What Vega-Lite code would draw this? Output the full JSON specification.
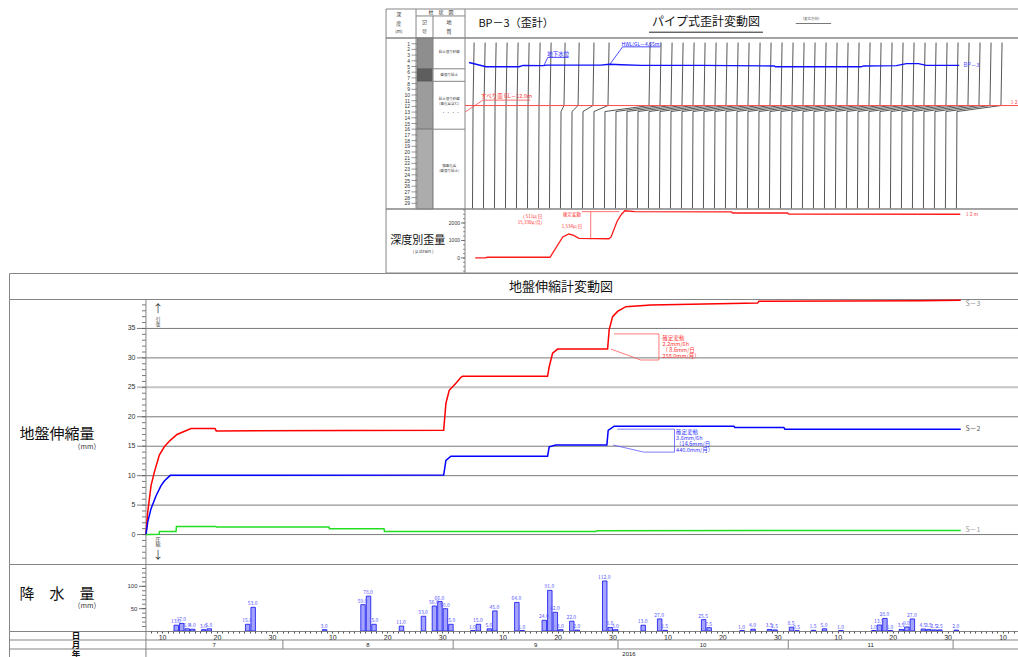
{
"$schema": "https://vega.github.io/schema/vega-lite/v6.json",
"background": "white",
"padding": {"left": 8, "top": 8, "right": 0, "bottom": 0},
"spacing": 0,
"bounds": "flush",
"config": {
  "font": "Noto Sans CJK JP",
  "view": {"stroke": "#858585", "strokeWidth": 1},
  "axis": {"labelFont": "Liberation Sans", "labelColor": "#333333", "tickColor": "#555555", "domainColor": "#555555"}
},
"datasets": {
  "pipe": [
    {"gauge":1,"depth":0.8,"trace":1.1},{"gauge":1,"depth":11.85,"trace":1},{"gauge":1,"depth":12.9,"trace":1},{"gauge":1,"depth":29.9,"trace":0.95},
    {"gauge":2,"depth":0.8,"trace":2.1},{"gauge":2,"depth":11.85,"trace":2},{"gauge":2,"depth":12.9,"trace":2},{"gauge":2,"depth":29.9,"trace":1.95},
    {"gauge":3,"depth":0.8,"trace":3.1},{"gauge":3,"depth":11.85,"trace":3},{"gauge":3,"depth":12.9,"trace":3},{"gauge":3,"depth":29.9,"trace":2.95},
    {"gauge":4,"depth":0.8,"trace":4.1},{"gauge":4,"depth":11.85,"trace":4},{"gauge":4,"depth":12.9,"trace":4},{"gauge":4,"depth":29.9,"trace":3.95},
    {"gauge":5,"depth":0.8,"trace":5.1},{"gauge":5,"depth":11.85,"trace":5},{"gauge":5,"depth":12.9,"trace":5},{"gauge":5,"depth":29.9,"trace":4.95},
    {"gauge":6,"depth":0.8,"trace":6.1},{"gauge":6,"depth":11.85,"trace":6},{"gauge":6,"depth":12.9,"trace":6},{"gauge":6,"depth":29.9,"trace":5.95},
    {"gauge":7,"depth":0.8,"trace":7.1},{"gauge":7,"depth":11.85,"trace":7},{"gauge":7,"depth":12.9,"trace":7},{"gauge":7,"depth":29.9,"trace":6.95},
    {"gauge":8,"depth":0.8,"trace":8.1},{"gauge":8,"depth":11.85,"trace":8},{"gauge":8,"depth":12.9,"trace":8},{"gauge":8,"depth":29.9,"trace":7.95},
    {"gauge":9,"depth":0.8,"trace":9.37},{"gauge":9,"depth":11.85,"trace":9.27},{"gauge":9,"depth":12.9,"trace":9},{"gauge":9,"depth":29.9,"trace":8.95},
    {"gauge":10,"depth":0.8,"trace":10.65},{"gauge":10,"depth":11.85,"trace":10.55},{"gauge":10,"depth":12.9,"trace":10},{"gauge":10,"depth":29.9,"trace":9.95},
    {"gauge":11,"depth":0.8,"trace":12.0},{"gauge":11,"depth":11.85,"trace":11.9},{"gauge":11,"depth":12.9,"trace":11},{"gauge":11,"depth":29.9,"trace":10.95},
    {"gauge":12,"depth":0.8,"trace":13.37},{"gauge":12,"depth":11.85,"trace":13.27},{"gauge":12,"depth":12.9,"trace":12},{"gauge":12,"depth":29.9,"trace":11.95},
    {"gauge":13,"depth":0.8,"trace":17.1},{"gauge":13,"depth":11.85,"trace":17},{"gauge":13,"depth":12.9,"trace":13},{"gauge":13,"depth":29.9,"trace":12.95},
    {"gauge":14,"depth":0.8,"trace":18.1},{"gauge":14,"depth":11.85,"trace":18},{"gauge":14,"depth":12.9,"trace":14},{"gauge":14,"depth":29.9,"trace":13.95},
    {"gauge":15,"depth":0.8,"trace":19.1},{"gauge":15,"depth":11.85,"trace":19},{"gauge":15,"depth":12.9,"trace":15},{"gauge":15,"depth":29.9,"trace":14.95},
    {"gauge":16,"depth":0.8,"trace":20.1},{"gauge":16,"depth":11.85,"trace":20},{"gauge":16,"depth":12.9,"trace":16},{"gauge":16,"depth":29.9,"trace":15.95},
    {"gauge":17,"depth":0.8,"trace":21.1},{"gauge":17,"depth":11.85,"trace":21},{"gauge":17,"depth":12.9,"trace":17},{"gauge":17,"depth":29.9,"trace":16.95},
    {"gauge":18,"depth":0.8,"trace":22.1},{"gauge":18,"depth":11.85,"trace":22},{"gauge":18,"depth":12.9,"trace":18},{"gauge":18,"depth":29.9,"trace":17.95},
    {"gauge":19,"depth":0.8,"trace":23.1},{"gauge":19,"depth":11.85,"trace":23},{"gauge":19,"depth":12.9,"trace":19},{"gauge":19,"depth":29.9,"trace":18.95},
    {"gauge":20,"depth":0.8,"trace":24.1},{"gauge":20,"depth":11.85,"trace":24},{"gauge":20,"depth":12.9,"trace":20},{"gauge":20,"depth":29.9,"trace":19.95},
    {"gauge":21,"depth":0.8,"trace":25.1},{"gauge":21,"depth":11.85,"trace":25},{"gauge":21,"depth":12.9,"trace":21},{"gauge":21,"depth":29.9,"trace":20.95},
    {"gauge":22,"depth":0.8,"trace":26.1},{"gauge":22,"depth":11.85,"trace":26},{"gauge":22,"depth":12.9,"trace":22},{"gauge":22,"depth":29.9,"trace":21.95},
    {"gauge":23,"depth":0.8,"trace":27.1},{"gauge":23,"depth":11.85,"trace":27},{"gauge":23,"depth":12.9,"trace":23},{"gauge":23,"depth":29.9,"trace":22.95},
    {"gauge":24,"depth":0.8,"trace":28.1},{"gauge":24,"depth":11.85,"trace":28},{"gauge":24,"depth":12.9,"trace":24},{"gauge":24,"depth":29.9,"trace":23.95},
    {"gauge":25,"depth":0.8,"trace":29.1},{"gauge":25,"depth":11.85,"trace":29},{"gauge":25,"depth":12.9,"trace":25},{"gauge":25,"depth":29.9,"trace":24.95},
    {"gauge":26,"depth":0.8,"trace":30.1},{"gauge":26,"depth":11.85,"trace":30},{"gauge":26,"depth":12.9,"trace":26},{"gauge":26,"depth":29.9,"trace":25.95},
    {"gauge":27,"depth":0.8,"trace":31.1},{"gauge":27,"depth":11.85,"trace":31},{"gauge":27,"depth":12.9,"trace":27},{"gauge":27,"depth":29.9,"trace":26.95},
    {"gauge":28,"depth":0.8,"trace":32.1},{"gauge":28,"depth":11.85,"trace":32},{"gauge":28,"depth":12.9,"trace":28},{"gauge":28,"depth":29.9,"trace":27.95},
    {"gauge":29,"depth":0.8,"trace":33.1},{"gauge":29,"depth":11.85,"trace":33},{"gauge":29,"depth":12.9,"trace":29},{"gauge":29,"depth":29.9,"trace":28.95},
    {"gauge":30,"depth":0.8,"trace":34.1},{"gauge":30,"depth":11.85,"trace":34},{"gauge":30,"depth":12.9,"trace":30},{"gauge":30,"depth":29.9,"trace":29.95},
    {"gauge":31,"depth":0.8,"trace":35.1},{"gauge":31,"depth":11.85,"trace":35},{"gauge":31,"depth":12.9,"trace":31},{"gauge":31,"depth":29.9,"trace":30.95},
    {"gauge":32,"depth":0.8,"trace":36.1},{"gauge":32,"depth":11.85,"trace":36},{"gauge":32,"depth":12.9,"trace":32},{"gauge":32,"depth":29.9,"trace":31.95},
    {"gauge":33,"depth":0.8,"trace":37.1},{"gauge":33,"depth":11.85,"trace":37},{"gauge":33,"depth":12.9,"trace":33},{"gauge":33,"depth":29.9,"trace":32.95},
    {"gauge":34,"depth":0.8,"trace":38.1},{"gauge":34,"depth":11.85,"trace":38},{"gauge":34,"depth":12.9,"trace":34},{"gauge":34,"depth":29.9,"trace":33.95},
    {"gauge":35,"depth":0.8,"trace":39.1},{"gauge":35,"depth":11.85,"trace":39},{"gauge":35,"depth":12.9,"trace":35},{"gauge":35,"depth":29.9,"trace":34.95},
    {"gauge":36,"depth":0.8,"trace":40.1},{"gauge":36,"depth":11.85,"trace":40},{"gauge":36,"depth":12.9,"trace":36},{"gauge":36,"depth":29.9,"trace":35.95},
    {"gauge":37,"depth":0.8,"trace":41.1},{"gauge":37,"depth":11.85,"trace":41},{"gauge":37,"depth":12.9,"trace":37},{"gauge":37,"depth":29.9,"trace":36.95},
    {"gauge":38,"depth":0.8,"trace":42.1},{"gauge":38,"depth":11.85,"trace":42},{"gauge":38,"depth":12.9,"trace":38},{"gauge":38,"depth":29.9,"trace":37.95},
    {"gauge":39,"depth":0.8,"trace":43.1},{"gauge":39,"depth":11.85,"trace":43},{"gauge":39,"depth":12.9,"trace":39},{"gauge":39,"depth":29.9,"trace":38.95},
    {"gauge":40,"depth":0.8,"trace":44.1},{"gauge":40,"depth":11.85,"trace":44},{"gauge":40,"depth":12.9,"trace":40},{"gauge":40,"depth":29.9,"trace":39.95},
    {"gauge":41,"depth":0.8,"trace":45.1},{"gauge":41,"depth":11.85,"trace":45},{"gauge":41,"depth":12.9,"trace":41},{"gauge":41,"depth":29.9,"trace":40.95},
    {"gauge":42,"depth":0.8,"trace":46.1},{"gauge":42,"depth":11.85,"trace":46},{"gauge":42,"depth":12.9,"trace":42},{"gauge":42,"depth":29.9,"trace":41.95},
    {"gauge":43,"depth":0.8,"trace":47.1},{"gauge":43,"depth":11.85,"trace":47},{"gauge":43,"depth":12.9,"trace":43},{"gauge":43,"depth":29.9,"trace":42.95},
    {"gauge":44,"depth":0.8,"trace":48.1},{"gauge":44,"depth":11.85,"trace":48},{"gauge":44,"depth":12.9,"trace":44},{"gauge":44,"depth":29.9,"trace":43.95},
    {"gauge":45,"depth":0.8,"trace":49.1},{"gauge":45,"depth":11.85,"trace":49},{"gauge":45,"depth":12.9,"trace":45},{"gauge":45,"depth":29.9,"trace":44.95}
  ],
  "groundwater": [
    {"trace":0.64,"depth":4.3},{"trace":2.18,"depth":5.05},{"trace":5.18,"depth":5.05},{"trace":5.55,"depth":4.8},{"trace":7.36,"depth":4.85},{"trace":7.7,"depth":4.75},{"trace":12.6,"depth":4.75},{"trace":13.4,"depth":4.6},{"trace":14.5,"depth":4.7},{"trace":16.3,"depth":4.8},{"trace":21.7,"depth":4.8},{"trace":28.4,"depth":4.9},{"trace":28.5,"depth":5.05},{"trace":36.3,"depth":5.05},{"trace":36.5,"depth":4.9},{"trace":39.5,"depth":4.85},{"trace":40.4,"depth":4.5},{"trace":41.5,"depth":4.5},{"trace":42.2,"depth":4.8},{"trace":45.2,"depth":4.8}
  ],
  "strain": [
    {"trace":1.2,"ustrain":0},{"trace":2.1,"ustrain":0},{"trace":2.3,"ustrain":40},{"trace":8.0,"ustrain":40},{"trace":9.16,"ustrain":1200},{"trace":9.71,"ustrain":1370},{"trace":10.1,"ustrain":1300},{"trace":10.63,"ustrain":1120},{"trace":13.36,"ustrain":1100},{"trace":13.55,"ustrain":1200},{"trace":14.1,"ustrain":2100},{"trace":14.5,"ustrain":2500},{"trace":14.8,"ustrain":2700},{"trace":15.7,"ustrain":2650},{"trace":24.5,"ustrain":2630},{"trace":24.6,"ustrain":2570},{"trace":29.6,"ustrain":2570},{"trace":29.7,"ustrain":2510},{"trace":45.3,"ustrain":2500}
  ],
  "strainTicks": [
    {"tick":-750},{"tick":-500},{"tick":-250},{"tick":0},{"tick":250},{"tick":500},{"tick":750},{"tick":1000},{"tick":1250},{"tick":1500},{"tick":1750},{"tick":2000},{"tick":2250},{"tick":2500},{"tick":2750}
  ],
  "soil": [
    {"top":0,"bottom":5.4,"soil":"砂礫"},{"top":5.4,"bottom":7.6,"soil":"粘土"},{"top":7.6,"bottom":16,"soil":"砂礫2"},{"top":16,"bottom":30,"soil":"風化岩"}
  ],
  "meters": [
    {"m":1},{"m":2},{"m":3},{"m":4},{"m":5},{"m":6},{"m":7},{"m":8},{"m":9},{"m":10},{"m":11},{"m":12},{"m":13},{"m":14},{"m":15},{"m":16},{"m":17},{"m":18},{"m":19},{"m":20},{"m":21},{"m":22},{"m":23},{"m":24},{"m":25},{"m":26},{"m":27},{"m":28},{"m":29}
  ],
  "mainTicks": [
    {"tick":-4},{"tick":-3},{"tick":-2},{"tick":-1},{"tick":0},{"tick":1},{"tick":2},{"tick":3},{"tick":4},{"tick":5},{"tick":6},{"tick":7},{"tick":8},{"tick":9},{"tick":10},{"tick":11},{"tick":12},{"tick":13},{"tick":14},{"tick":15},{"tick":16},{"tick":17},{"tick":18},{"tick":19},{"tick":20},{"tick":21},{"tick":22},{"tick":23},{"tick":24},{"tick":25},{"tick":26},{"tick":27},{"tick":28},{"tick":29},{"tick":30},{"tick":31},{"tick":32},{"tick":33},{"tick":34},{"tick":35},{"tick":36},{"tick":37},{"tick":38},{"tick":39}
  ],
  "rainTicks": [
    {"tick":10},{"tick":20},{"tick":30},{"tick":40},{"tick":50},{"tick":60},{"tick":70},{"tick":80},{"tick":90},{"tick":100},{"tick":110},{"tick":120},{"tick":130},{"tick":140}
  ],
  "ext": [
    {"s":"S－3","t":"2016-07-07T02:00","v":0},{"s":"S－3","t":"2016-07-07T09:30","v":3.8},{"s":"S－3","t":"2016-07-08T00:00","v":8.3},{"s":"S－3","t":"2016-07-08T14:25","v":10.6},{"s":"S－3","t":"2016-07-09T12:15","v":13.5},{"s":"S－3","t":"2016-07-10T10:00","v":14.9},{"s":"S－3","t":"2016-07-11T12:00","v":16.0},{"s":"S－3","t":"2016-07-12T17:30","v":17.0},{"s":"S－3","t":"2016-07-15T06:45","v":18.0},{"s":"S－3","t":"2016-07-19T15:30","v":18.0},{"s":"S－3","t":"2016-07-19T21:00","v":17.6},{"s":"S－3","t":"2016-08-30T06:30","v":17.7},{"s":"S－3","t":"2016-08-30T16:20","v":22.3},{"s":"S－3","t":"2016-08-31T06:45","v":24.5},{"s":"S－3","t":"2016-08-31T14:10","v":24.8},{"s":"S－3","t":"2016-09-01T12:00","v":25.7},{"s":"S－3","t":"2016-09-02T10:00","v":26.7},{"s":"S－3","t":"2016-09-02T17:15","v":26.9},{"s":"S－3","t":"2016-09-18T04:30","v":26.9},{"s":"S－3","t":"2016-09-18T11:30","v":28.5},{"s":"S－3","t":"2016-09-19T02:25","v":30.8},{"s":"S－3","t":"2016-09-20T00:15","v":31.5},{"s":"S－3","t":"2016-09-29T02:40","v":31.5},{"s":"S－3","t":"2016-09-29T09:35","v":34.8},{"s":"S－3","t":"2016-09-30T00:30","v":37.0},{"s":"S－3","t":"2016-09-30T22:20","v":37.9},{"s":"S－3","t":"2016-10-02T10:30","v":38.7},{"s":"S－3","t":"2016-10-06T23:45","v":39.0},{"s":"S－3","t":"2016-10-26T09:50","v":39.3},{"s":"S－3","t":"2016-10-26T15:35","v":39.6},{"s":"S－3","t":"2016-11-25T03:00","v":39.7},{"s":"S－3","t":"2016-12-02T09:30","v":39.8},
    {"s":"S－2","t":"2016-07-07T02:00","v":0},{"s":"S－2","t":"2016-07-07T09:30","v":2.1},{"s":"S－2","t":"2016-07-08T00:00","v":4.4},{"s":"S－2","t":"2016-07-08T22:00","v":6.6},{"s":"S－2","t":"2016-07-09T19:40","v":8.3},{"s":"S－2","t":"2016-07-10T10:00","v":9.1},{"s":"S－2","t":"2016-07-11T12:00","v":10.05},{"s":"S－2","t":"2016-08-30T06:30","v":10.1},{"s":"S－2","t":"2016-08-30T16:20","v":12.6},{"s":"S－2","t":"2016-08-31T14:10","v":13.3},{"s":"S－2","t":"2016-09-18T04:30","v":13.3},{"s":"S－2","t":"2016-09-18T11:30","v":14.9},{"s":"S－2","t":"2016-09-19T16:50","v":15.2},{"s":"S－2","t":"2016-09-28T23:30","v":15.2},{"s":"S－2","t":"2016-09-29T05:15","v":17.7},{"s":"S－2","t":"2016-09-30T07:25","v":18.4},{"s":"S－2","t":"2016-10-22T02:10","v":18.4},{"s":"S－2","t":"2016-10-22T06:30","v":18.2},{"s":"S－2","t":"2016-10-31T04:30","v":18.2},{"s":"S－2","t":"2016-10-31T09:00","v":17.9},{"s":"S－2","t":"2016-12-02T09:30","v":17.9},
    {"s":"S－1","t":"2016-07-07T02:00","v":0},{"s":"S－1","t":"2016-07-09T11:00","v":0.05},{"s":"S－1","t":"2016-07-09T13:00","v":0.5},{"s":"S－1","t":"2016-07-12T13:10","v":0.5},{"s":"S－1","t":"2016-07-12T15:00","v":1.35},{"s":"S－1","t":"2016-07-19T19:30","v":1.35},{"s":"S－1","t":"2016-07-19T21:30","v":1.3},{"s":"S－1","t":"2016-08-09T09:20","v":1.3},{"s":"S－1","t":"2016-08-09T11:30","v":1.0},{"s":"S－1","t":"2016-08-19T09:40","v":1.0},{"s":"S－1","t":"2016-08-19T12:00","v":0.5},{"s":"S－1","t":"2016-09-26T23:30","v":0.5},{"s":"S－1","t":"2016-09-27T04:00","v":0.65},{"s":"S－1","t":"2016-12-02T09:30","v":0.7}
  ],
  "rain": [
    {"date":"2016-07-12T00:00","mm":13.0},{"date":"2016-07-13T00:00","mm":17.0},{"date":"2016-07-14T00:00","mm":5.0},{"date":"2016-07-15T00:00","mm":4.0},{"date":"2016-07-17T00:00","mm":3.0},{"date":"2016-07-18T00:00","mm":5.0},{"date":"2016-07-25T00:00","mm":15.0},{"date":"2016-07-26T00:00","mm":53.0},
    {"date":"2016-08-08T00:00","mm":3.0},{"date":"2016-08-15T00:00","mm":59.0},{"date":"2016-08-16T00:00","mm":78.0},{"date":"2016-08-17T00:00","mm":15.0},{"date":"2016-08-22T00:00","mm":11.0},{"date":"2016-08-26T00:00","mm":33.0},{"date":"2016-08-28T00:00","mm":56.0},{"date":"2016-08-29T00:00","mm":66.0},{"date":"2016-08-30T00:00","mm":50.0},{"date":"2016-08-31T00:00","mm":15.0},
    {"date":"2016-09-04T00:00","mm":1.0},{"date":"2016-09-05T00:00","mm":15.0},{"date":"2016-09-07T00:00","mm":5.0},{"date":"2016-09-08T00:00","mm":45.0},{"date":"2016-09-12T00:00","mm":64.0},{"date":"2016-09-13T00:00","mm":1.0},{"date":"2016-09-17T00:00","mm":24.0},{"date":"2016-09-18T00:00","mm":91.0},{"date":"2016-09-19T00:00","mm":42.0},{"date":"2016-09-20T00:00","mm":3.0},{"date":"2016-09-22T00:00","mm":22.0},{"date":"2016-09-23T00:00","mm":2.0},{"date":"2016-09-28T00:00","mm":112.0},{"date":"2016-09-29T00:00","mm":8.0},{"date":"2016-09-30T00:00","mm":3.0},
    {"date":"2016-10-05T00:00","mm":13.0},{"date":"2016-10-08T00:00","mm":27.0},{"date":"2016-10-09T00:00","mm":1.5},{"date":"2016-10-16T00:00","mm":25.5},{"date":"2016-10-17T00:00","mm":7.5},{"date":"2016-10-23T00:00","mm":1.0},{"date":"2016-10-25T00:00","mm":4.0},{"date":"2016-10-28T00:00","mm":3.5},{"date":"2016-10-29T00:00","mm":2.5},
    {"date":"2016-11-01T00:00","mm":8.5},{"date":"2016-11-02T00:00","mm":0.5},{"date":"2016-11-05T00:00","mm":1.5},{"date":"2016-11-07T00:00","mm":5.0},{"date":"2016-11-10T00:00","mm":1.0},{"date":"2016-11-16T00:00","mm":1.0},{"date":"2016-11-17T00:00","mm":13.5},{"date":"2016-11-18T00:00","mm":28.0},{"date":"2016-11-19T00:00","mm":1.0},{"date":"2016-11-21T00:00","mm":3.5},{"date":"2016-11-22T00:00","mm":9.0},{"date":"2016-11-23T00:00","mm":27.0},{"date":"2016-11-25T00:00","mm":4.5},{"date":"2016-11-26T00:00","mm":3.5},{"date":"2016-11-27T00:00","mm":2.5},{"date":"2016-11-28T00:00","mm":2.5},{"date":"2016-12-01T00:00","mm":2.0}
  ],
  "monthStarts": [
    {"start":"2016-08-01T00:00"},{"start":"2016-09-01T00:00"},{"start":"2016-10-01T00:00"},{"start":"2016-11-01T00:00"},{"start":"2016-12-01T00:00"}
  ]
},
"vconcat": [
  {"width": 1010, "height": 29, "view": {"stroke": null}, "data": {"values": [{}]},
   "layer": [
    {"mark": {"type": "rect", "fill": "transparent", "stroke": "#858585", "strokeWidth": 1}, "encoding": {"x": {"datum": 0.3733, "type": "quantitative", "scale": {"domain": [0, 1], "nice": false, "zero": false}, "axis": null}, "x2": {"datum": 1}, "y": {"datum": 0, "type": "quantitative", "scale": {"domain": [0, 1], "nice": false, "zero": false}, "axis": null}, "y2": {"datum": 1}}},
    {"mark": {"type": "rule", "color": "#858585"}, "encoding": {"x": {"datum": 0.4515, "type": "quantitative", "axis": null}}},
    {"mark": {"type": "rule", "color": "#858585"}, "encoding": {"x": {"datum": 0.403, "type": "quantitative", "axis": null}}},
    {"mark": {"type": "rule", "color": "#858585"}, "encoding": {"x": {"datum": 0.4198, "type": "quantitative", "axis": null}, "y": {"datum": 0, "type": "quantitative", "axis": null}, "y2": {"datum": 0.76}}},
    {"mark": {"type": "rule", "color": "#858585"}, "encoding": {"x": {"datum": 0.403, "type": "quantitative", "axis": null}, "x2": {"datum": 0.4515}, "y": {"datum": 0.76, "type": "quantitative", "axis": null}}},
    {"mark": {"type": "text", "text": "深", "fontSize": 5, "color": "#333333"}, "encoding": {"x": {"datum": 0.386, "type": "quantitative", "axis": null}, "y": {"datum": 0.83, "type": "quantitative", "axis": null}}},
    {"mark": {"type": "text", "text": "度", "fontSize": 5, "color": "#333333"}, "encoding": {"x": {"datum": 0.386, "type": "quantitative", "axis": null}, "y": {"datum": 0.52, "type": "quantitative", "axis": null}}},
    {"mark": {"type": "text", "text": "(m)", "fontSize": 4.5, "color": "#333333"}, "encoding": {"x": {"datum": 0.386, "type": "quantitative", "axis": null}, "y": {"datum": 0.21, "type": "quantitative", "axis": null}}},
    {"mark": {"type": "text", "text": "柱　状　図", "fontSize": 5, "color": "#333333"}, "encoding": {"x": {"datum": 0.4277, "type": "quantitative", "axis": null}, "y": {"datum": 0.88, "type": "quantitative", "axis": null}}},
    {"mark": {"type": "text", "text": "記", "fontSize": 5, "color": "#333333"}, "encoding": {"x": {"datum": 0.4115, "type": "quantitative", "axis": null}, "y": {"datum": 0.55, "type": "quantitative", "axis": null}}},
    {"mark": {"type": "text", "text": "号", "fontSize": 5, "color": "#333333"}, "encoding": {"x": {"datum": 0.4115, "type": "quantitative", "axis": null}, "y": {"datum": 0.24, "type": "quantitative", "axis": null}}},
    {"mark": {"type": "text", "text": "地", "fontSize": 5, "color": "#333333"}, "encoding": {"x": {"datum": 0.4356, "type": "quantitative", "axis": null}, "y": {"datum": 0.55, "type": "quantitative", "axis": null}}},
    {"mark": {"type": "text", "text": "質", "fontSize": 5, "color": "#333333"}, "encoding": {"x": {"datum": 0.4356, "type": "quantitative", "axis": null}, "y": {"datum": 0.24, "type": "quantitative", "axis": null}}},
    {"mark": {"type": "text", "text": "BP－3（歪計）", "fontSize": 11, "color": "#111111"}, "encoding": {"x": {"datum": 0.502, "type": "quantitative", "axis": null}, "y": {"datum": 0.5, "type": "quantitative", "axis": null}}},
    {"mark": {"type": "text", "text": "パイプ式歪計変動図", "fontSize": 12, "color": "#111111"}, "encoding": {"x": {"datum": 0.69, "type": "quantitative", "axis": null}, "y": {"datum": 0.55, "type": "quantitative", "axis": null}}},
    {"mark": {"type": "rule", "color": "#222222", "strokeWidth": 1}, "encoding": {"x": {"datum": 0.6337, "type": "quantitative", "axis": null}, "x2": {"datum": 0.7465}, "y": {"datum": 0.2, "type": "quantitative", "axis": null}}},
    {"mark": {"type": "text", "text": "（変位方向）", "fontSize": 3.5, "color": "#555555"}, "encoding": {"x": {"datum": 0.794, "type": "quantitative", "axis": null}, "y": {"datum": 0.66, "type": "quantitative", "axis": null}}},
    {"mark": {"type": "rule", "color": "#555555", "strokeWidth": 0.8}, "encoding": {"x": {"datum": 0.779, "type": "quantitative", "axis": null}, "x2": {"datum": 0.814}, "y": {"datum": 0.5, "type": "quantitative", "axis": null}}}
   ]},

  {"width": 1010, "height": 171, "view": {"stroke": null},
   "resolve": {"scale": {"x": "independent"}},
   "layer": [
    {"data": {"values": [{}]}, "mark": {"type": "rect", "fill": "transparent", "stroke": "#858585", "strokeWidth": 1}, "encoding": {"x": {"datum": 0.3733, "type": "quantitative", "scale": {"domain": [0, 1], "nice": false, "zero": false}, "axis": null}, "x2": {"datum": 1}, "y": {"datum": 0, "type": "quantitative", "scale": {"domain": [0, 30], "reverse": true, "nice": false, "zero": false}, "axis": null}, "y2": {"datum": 30}}},
    {"data": {"name": "soil"}, "mark": {"type": "rect", "stroke": "#555555", "strokeWidth": 0.5}, "encoding": {"x": {"datum": 0.4038, "type": "quantitative", "scale": {"domain": [0, 1], "nice": false, "zero": false}, "axis": null}, "x2": {"datum": 0.4194}, "y": {"field": "top", "type": "quantitative", "axis": null}, "y2": {"field": "bottom"}, "color": {"field": "soil", "type": "nominal", "scale": {"domain": ["砂礫", "粘土", "砂礫2", "風化岩"], "range": ["#8e8e8e", "#5e5e5e", "#9c9c9c", "#acacac"]}, "legend": null}}},
    {"data": {"name": "soil"}, "transform": [{"filter": "datum.bottom < 30"}], "mark": {"type": "rule", "color": "#858585"}, "encoding": {"x": {"datum": 0.4198, "type": "quantitative", "scale": {"domain": [0, 1], "nice": false, "zero": false}, "axis": null}, "x2": {"datum": 0.4515}, "y": {"field": "bottom", "type": "quantitative", "axis": null}}},
    {"data": {"values": [{}]}, "mark": {"type": "rule", "color": "#858585"}, "encoding": {"x": {"datum": 0.403, "type": "quantitative", "scale": {"domain": [0, 1], "nice": false, "zero": false}, "axis": null}}},
    {"data": {"values": [{}]}, "mark": {"type": "rule", "color": "#858585"}, "encoding": {"x": {"datum": 0.4198, "type": "quantitative", "scale": {"domain": [0, 1], "nice": false, "zero": false}, "axis": null}}},
    {"data": {"values": [{}]}, "mark": {"type": "rule", "color": "#858585"}, "encoding": {"x": {"datum": 0.4515, "type": "quantitative", "scale": {"domain": [0, 1], "nice": false, "zero": false}, "axis": null}}},
    {"data": {"name": "meters"}, "mark": {"type": "text", "align": "right", "fontSize": 5, "color": "#333333", "font": "Liberation Sans"}, "encoding": {"x": {"datum": 0.397, "type": "quantitative", "scale": {"domain": [0, 1], "nice": false, "zero": false}, "axis": null}, "y": {"field": "m", "type": "quantitative", "axis": null}, "text": {"field": "m"}}},
    {"data": {"name": "meters"}, "mark": {"type": "rule", "color": "#555555", "strokeWidth": 0.6}, "encoding": {"x": {"datum": 0.3985, "type": "quantitative", "scale": {"domain": [0, 1], "nice": false, "zero": false}, "axis": null}, "x2": {"datum": 0.4038}, "y": {"field": "m", "type": "quantitative", "axis": null}}},
    {"data": {"values": [{"txt": "粘土混り砂礫", "d": 2.4}, {"txt": "礫混り粘土", "d": 6.5}, {"txt": "粘土混り砂礫", "d": 10.7}, {"txt": "(風化岩含む)", "d": 11.6}, {"txt": "強風化岩", "d": 22.4}, {"txt": "(礫混り粘土)", "d": 23.3}]}, "mark": {"type": "text", "fontSize": 3.5, "color": "#444444"}, "encoding": {"x": {"datum": 0.4358, "type": "quantitative", "scale": {"domain": [0, 1], "nice": false, "zero": false}, "axis": null}, "y": {"field": "d", "type": "quantitative", "axis": null}, "text": {"field": "txt"}}},
    {"data": {"values": [{}]}, "mark": {"type": "text", "text": "・ ・ ・ ・", "fontSize": 4, "color": "#444444"}, "encoding": {"x": {"datum": 0.4374, "type": "quantitative", "scale": {"domain": [0, 1], "nice": false, "zero": false}, "axis": null}, "y": {"datum": 13.4, "type": "quantitative", "axis": null}}},
    {"data": {"name": "pipe"}, "mark": {"type": "line", "color": "#2a2a2a", "strokeWidth": 0.8}, "encoding": {"x": {"field": "trace", "type": "quantitative", "scale": {"domain": [0.27, 50.64], "range": [456, 1010], "nice": false, "zero": false}, "axis": null}, "y": {"field": "depth", "type": "quantitative", "axis": null}, "detail": {"field": "gauge", "type": "nominal"}, "order": {"field": "depth", "type": "quantitative"}}},
    {"data": {"values": [{}]}, "mark": {"type": "rule", "color": "#ff4d4d", "strokeWidth": 1}, "encoding": {"x": {"datum": 0.27, "type": "quantitative", "scale": {"domain": [0.27, 50.64], "range": [456, 1010], "nice": false, "zero": false}, "axis": null}, "x2": {"datum": 50.64}, "y": {"datum": 11.85, "type": "quantitative", "axis": null}}},
    {"data": {"name": "groundwater"}, "mark": {"type": "line", "color": "#1010ff", "strokeWidth": 1.4}, "encoding": {"x": {"field": "trace", "type": "quantitative", "scale": {"domain": [0.27, 50.64], "range": [456, 1010], "nice": false, "zero": false}, "axis": null}, "y": {"field": "depth", "type": "quantitative", "axis": null}}},
    {"data": {"values": [{}]}, "mark": {"type": "rule", "color": "#ff4d4d", "strokeWidth": 0.8}, "encoding": {"x": {"datum": 0.27, "type": "quantitative", "scale": {"domain": [0.27, 50.64], "range": [456, 1010], "nice": false, "zero": false}, "axis": null}, "y": {"datum": 13.0, "type": "quantitative", "axis": null}, "x2": {"datum": 1.9}, "y2": {"datum": 10.9}}},
    {"data": {"values": [{}]}, "mark": {"type": "rule", "color": "#ff4d4d", "strokeWidth": 0.8}, "encoding": {"x": {"datum": 1.9, "type": "quantitative", "scale": {"domain": [0.27, 50.64], "range": [456, 1010], "nice": false, "zero": false}, "axis": null}, "x2": {"datum": 6.2}, "y": {"datum": 10.9, "type": "quantitative", "axis": null}}},
    {"data": {"values": [{}]}, "mark": {"type": "text", "text": "すべり面 GL－12.0m", "fontSize": 5.5, "color": "#ff3030"}, "encoding": {"x": {"datum": 4.05, "type": "quantitative", "scale": {"domain": [0.27, 50.64], "range": [456, 1010], "nice": false, "zero": false}, "axis": null}, "y": {"datum": 10.1, "type": "quantitative", "axis": null}}},
    {"data": {"values": [{}]}, "mark": {"type": "text", "text": "地下水位", "fontSize": 5.5, "color": "#2020ff"}, "encoding": {"x": {"datum": 8.75, "type": "quantitative", "scale": {"domain": [0.27, 50.64], "range": [456, 1010], "nice": false, "zero": false}, "axis": null}, "y": {"datum": 2.8, "type": "quantitative", "axis": null}}},
    {"data": {"values": [{}]}, "mark": {"type": "rule", "color": "#2020ff", "strokeWidth": 0.8}, "encoding": {"x": {"datum": 7.8, "type": "quantitative", "scale": {"domain": [0.27, 50.64], "range": [456, 1010], "nice": false, "zero": false}, "axis": null}, "x2": {"datum": 9.7}, "y": {"datum": 3.4, "type": "quantitative", "axis": null}}},
    {"data": {"values": [{}]}, "mark": {"type": "rule", "color": "#2020ff", "strokeWidth": 0.8}, "encoding": {"x": {"datum": 7.8, "type": "quantitative", "scale": {"domain": [0.27, 50.64], "range": [456, 1010], "nice": false, "zero": false}, "axis": null}, "y": {"datum": 3.4, "type": "quantitative", "axis": null}, "x2": {"datum": 7.45}, "y2": {"datum": 4.8}}},
    {"data": {"values": [{}]}, "mark": {"type": "text", "text": "HWL(GL－4.65m)", "fontSize": 5, "color": "#2020ff"}, "encoding": {"x": {"datum": 16.3, "type": "quantitative", "scale": {"domain": [0.27, 50.64], "range": [456, 1010], "nice": false, "zero": false}, "axis": null}, "y": {"datum": 1.0, "type": "quantitative", "axis": null}}},
    {"data": {"values": [{}]}, "mark": {"type": "rule", "color": "#2020ff", "strokeWidth": 0.8}, "encoding": {"x": {"datum": 14.6, "type": "quantitative", "scale": {"domain": [0.27, 50.64], "range": [456, 1010], "nice": false, "zero": false}, "axis": null}, "x2": {"datum": 18.0}, "y": {"datum": 1.55, "type": "quantitative", "axis": null}}},
    {"data": {"values": [{}]}, "mark": {"type": "rule", "color": "#2020ff", "strokeWidth": 0.8}, "encoding": {"x": {"datum": 14.6, "type": "quantitative", "scale": {"domain": [0.27, 50.64], "range": [456, 1010], "nice": false, "zero": false}, "axis": null}, "y": {"datum": 1.55, "type": "quantitative", "axis": null}, "x2": {"datum": 13.45}, "y2": {"datum": 4.6}}},
    {"data": {"values": [{}]}, "mark": {"type": "text", "text": "BP－3", "fontSize": 5.5, "align": "left", "color": "#5050ff"}, "encoding": {"x": {"datum": 45.6, "type": "quantitative", "scale": {"domain": [0.27, 50.64], "range": [456, 1010], "nice": false, "zero": false}, "axis": null}, "y": {"datum": 4.8, "type": "quantitative", "axis": null}}},
    {"data": {"values": [{}]}, "mark": {"type": "text", "text": "1 2", "fontSize": 5, "align": "left", "color": "#ff5050"}, "encoding": {"x": {"datum": 49.9, "type": "quantitative", "scale": {"domain": [0.27, 50.64], "range": [456, 1010], "nice": false, "zero": false}, "axis": null}, "y": {"datum": 11.2, "type": "quantitative", "axis": null}}}
   ]},

  {"width": 1010, "height": 64, "view": {"stroke": null},
   "resolve": {"scale": {"x": "independent"}},
   "layer": [
    {"data": {"name": "strain"}, "mark": {"type": "line", "color": "#ff1a1a", "strokeWidth": 1.3}, "encoding": {"x": {"field": "trace", "type": "quantitative", "scale": {"domain": [0.27, 50.64], "range": [456, 1010], "nice": false, "zero": false}, "axis": null}, "y": {"field": "ustrain", "type": "quantitative", "scale": {"domain": [-860, 2800], "nice": false, "zero": false}, "axis": null}}},
    {"data": {"name": "strainTicks"}, "mark": {"type": "rule", "color": "#555555", "strokeWidth": 0.8}, "encoding": {"x": {"datum": 0.4497, "type": "quantitative", "scale": {"domain": [0, 1], "nice": false, "zero": false}, "axis": null}, "x2": {"datum": 0.4515}, "y": {"field": "tick", "type": "quantitative", "axis": null}}},
    {"data": {"name": "strainTicks"}, "transform": [{"filter": "datum.tick % 1000 === 0"}], "mark": {"type": "rule", "color": "#555555", "strokeWidth": 0.8}, "encoding": {"x": {"datum": 0.4475, "type": "quantitative", "scale": {"domain": [0, 1], "nice": false, "zero": false}, "axis": null}, "x2": {"datum": 0.4515}, "y": {"field": "tick", "type": "quantitative", "axis": null}}},
    {"data": {"name": "strainTicks"}, "transform": [{"filter": "datum.tick % 1000 === 0 && datum.tick >= 0"}], "mark": {"type": "text", "align": "right", "fontSize": 5, "color": "#333333", "font": "Liberation Sans"}, "encoding": {"x": {"datum": 0.4465, "type": "quantitative", "scale": {"domain": [0, 1], "nice": false, "zero": false}, "axis": null}, "y": {"field": "tick", "type": "quantitative", "axis": null}, "text": {"field": "tick", "type": "quantitative", "format": "d"}}},
    {"data": {"values": [{}]}, "mark": {"type": "rect", "fill": "transparent", "stroke": "#858585", "strokeWidth": 1}, "encoding": {"x": {"datum": 0.3733, "type": "quantitative", "scale": {"domain": [0, 1], "nice": false, "zero": false}, "axis": null}, "x2": {"datum": 1}, "y": {"datum": -860, "type": "quantitative", "axis": null}, "y2": {"datum": 2800}}},
    {"data": {"values": [{}]}, "mark": {"type": "rule", "color": "#858585"}, "encoding": {"x": {"datum": 0.4515, "type": "quantitative", "scale": {"domain": [0, 1], "nice": false, "zero": false}, "axis": null}}},
    {"data": {"values": [{}]}, "mark": {"type": "text", "text": "深度別歪量", "fontSize": 11, "color": "#111111"}, "encoding": {"x": {"datum": 0.4046, "type": "quantitative", "scale": {"domain": [0, 1], "nice": false, "zero": false}, "axis": null}, "y": {"datum": 970, "type": "quantitative", "axis": null}}},
    {"data": {"values": [{}]}, "mark": {"type": "text", "text": "( μ strain )", "fontSize": 4.5, "color": "#444444"}, "encoding": {"x": {"datum": 0.41, "type": "quantitative", "scale": {"domain": [0, 1], "nice": false, "zero": false}, "axis": null}, "y": {"datum": 350, "type": "quantitative", "axis": null}}},
    {"data": {"values": [{}]}, "mark": {"type": "rule", "color": "#ff4d4d", "strokeWidth": 0.8}, "encoding": {"x": {"datum": 11.7, "type": "quantitative", "scale": {"domain": [0.27, 50.64], "range": [456, 1010], "nice": false, "zero": false}, "axis": null}, "y": {"datum": 1060, "type": "quantitative", "axis": null}, "y2": {"datum": 2650}}},
    {"data": {"values": [{}]}, "mark": {"type": "rule", "color": "#ff4d4d", "strokeWidth": 0.8}, "encoding": {"x": {"datum": 10.9, "type": "quantitative", "scale": {"domain": [0.27, 50.64], "range": [456, 1010], "nice": false, "zero": false}, "axis": null}, "x2": {"datum": 14.3}, "y": {"datum": 2650, "type": "quantitative", "axis": null}}},
    {"data": {"values": [{"txt": "（ 511μ/日", "u": 6.3, "v": 2350}, {"txt": "15,330μ/月）", "u": 6.3, "v": 1990}, {"txt": "確定変動", "u": 10.0, "v": 2450}, {"txt": "1,534μ/日", "u": 10.0, "v": 1750}]}, "mark": {"type": "text", "fontSize": 4.5, "color": "#ff3030"}, "encoding": {"x": {"field": "u", "type": "quantitative", "scale": {"domain": [0.27, 50.64], "range": [456, 1010], "nice": false, "zero": false}, "axis": null}, "y": {"field": "v", "type": "quantitative", "axis": null}, "text": {"field": "txt"}}},
    {"data": {"values": [{}]}, "mark": {"type": "text", "text": "1 2 m", "fontSize": 5, "align": "left", "color": "#ff5050"}, "encoding": {"x": {"datum": 45.8, "type": "quantitative", "scale": {"domain": [0.27, 50.64], "range": [456, 1010], "nice": false, "zero": false}, "axis": null}, "y": {"datum": 2500, "type": "quantitative", "axis": null}}}
   ]},

  {"width": 1010, "height": 26, "data": {"values": [{}]},
   "mark": {"type": "text", "text": "地盤伸縮計変動図", "fontSize": 13, "color": "#111111"},
   "encoding": {"x": {"datum": 0.5465, "type": "quantitative", "scale": {"domain": [0, 1], "nice": false, "zero": false}, "axis": null}, "y": {"datum": 0.45, "type": "quantitative", "scale": {"domain": [0, 1], "nice": false, "zero": false}, "axis": null}}},

  {"width": 1010, "height": 265,
   "resolve": {"scale": {"x": "independent"}},
   "layer": [
    {"data": {"name": "mainTicks"}, "transform": [{"filter": "datum.tick % 5 === 0 && datum.tick >= 0"}], "mark": {"type": "rule"},
     "encoding": {
      "x": {"datum": 0.1267, "type": "quantitative", "scale": {"domain": [0, 1], "nice": false, "zero": false}, "axis": null},
      "x2": {"datum": 1},
      "y": {"field": "tick", "type": "quantitative", "scale": {"domain": [-5, 40], "nice": false, "zero": false}, "axis": null},
      "color": {"condition": {"test": "datum.tick === 25", "value": "#c4c4c4"}, "value": "#7a7a7a"},
      "strokeWidth": {"condition": {"test": "datum.tick === 25", "value": 2}, "value": 1}}},
    {"data": {"name": "mainTicks"}, "mark": {"type": "rule", "color": "#555555", "strokeWidth": 0.8}, "encoding": {"x": {"datum": 0.1317, "type": "quantitative", "scale": {"domain": [0, 1], "nice": false, "zero": false}, "axis": null}, "x2": {"datum": 0.1356}, "y": {"field": "tick", "type": "quantitative", "axis": null}}},
    {"data": {"name": "mainTicks"}, "transform": [{"filter": "datum.tick % 5 === 0 && datum.tick >= 0"}], "mark": {"type": "text", "align": "right", "fontSize": 7, "color": "#333333", "font": "Liberation Sans"}, "encoding": {"x": {"datum": 0.1252, "type": "quantitative", "scale": {"domain": [0, 1], "nice": false, "zero": false}, "axis": null}, "y": {"field": "tick", "type": "quantitative", "axis": null}, "text": {"field": "tick", "type": "quantitative"}}},
    {"data": {"values": [{}]}, "mark": {"type": "rule", "color": "#858585"}, "encoding": {"x": {"datum": 0.1356, "type": "quantitative", "scale": {"domain": [0, 1], "nice": false, "zero": false}, "axis": null}}},
    {"data": {"values": [{}]}, "mark": {"type": "text", "text": "地盤伸縮量", "fontSize": 15, "color": "#111111"}, "encoding": {"x": {"datum": 0.0475, "type": "quantitative", "scale": {"domain": [0, 1], "nice": false, "zero": false}, "axis": null}, "y": {"datum": 17.05, "type": "quantitative", "axis": null}}},
    {"data": {"values": [{}]}, "mark": {"type": "text", "text": "（mm）", "fontSize": 7, "color": "#333333"}, "encoding": {"x": {"datum": 0.0773, "type": "quantitative", "scale": {"domain": [0, 1], "nice": false, "zero": false}, "axis": null}, "y": {"datum": 14.8, "type": "quantitative", "axis": null}}},
    {"data": {"name": "ext"}, "transform": [{"filter": "datum.s === 'S－3'"}], "mark": {"type": "line", "strokeWidth": 1.5, "color": "#ff0000"},
     "encoding": {"x": {"field": "t", "type": "temporal", "scale": {"domain": [{"year": 2016, "month": 7, "date": 7, "hours": 2}, {"year": 2016, "month": 12, "date": 13}], "range": [137, 1010], "nice": false}, "axis": null}, "y": {"field": "v", "type": "quantitative", "axis": null}}},
    {"data": {"name": "ext"}, "transform": [{"filter": "datum.s === 'S－2'"}], "mark": {"type": "line", "strokeWidth": 1.5, "color": "#0000ff"},
     "encoding": {"x": {"field": "t", "type": "temporal", "scale": {"domain": [{"year": 2016, "month": 7, "date": 7, "hours": 2}, {"year": 2016, "month": 12, "date": 13}], "range": [137, 1010], "nice": false}, "axis": null}, "y": {"field": "v", "type": "quantitative", "axis": null}}},
    {"data": {"name": "ext"}, "transform": [{"filter": "datum.s === 'S－1'"}], "mark": {"type": "line", "strokeWidth": 1.5, "color": "#22dd22"},
     "encoding": {"x": {"field": "t", "type": "temporal", "scale": {"domain": [{"year": 2016, "month": 7, "date": 7, "hours": 2}, {"year": 2016, "month": 12, "date": 13}], "range": [137, 1010], "nice": false}, "axis": null}, "y": {"field": "v", "type": "quantitative", "axis": null}}},
    {"data": {"values": [{"label": "S－3", "lv": 39.2}, {"label": "S－2", "lv": 17.9}, {"label": "S－1", "lv": 0.7}]}, "mark": {"type": "text", "fontSize": 7, "align": "left"},
     "encoding": {"x": {"datum": {"year": 2016, "month": 12, "date": 3, "hours": 6}, "type": "temporal", "scale": {"domain": [{"year": 2016, "month": 7, "date": 7, "hours": 2}, {"year": 2016, "month": 12, "date": 13}], "range": [137, 1010], "nice": false}, "axis": null}, "y": {"field": "lv", "type": "quantitative", "axis": null}, "text": {"field": "label"},
                  "color": {"field": "label", "type": "nominal", "scale": {"domain": ["S－3", "S－2", "S－1"], "range": ["#ff6060", "#6a6aff", "#40c040"]}, "legend": null}}},
    {"data": {"values": [{}]}, "mark": {"type": "rule", "color": "#ff5a5a", "strokeWidth": 0.8}, "encoding": {"x": {"datum": {"year": 2016, "month": 9, "date": 30, "hours": 7}, "type": "temporal", "scale": {"domain": [{"year": 2016, "month": 7, "date": 7, "hours": 2}, {"year": 2016, "month": 12, "date": 13}], "range": [137, 1010], "nice": false}, "axis": null}, "x2": {"datum": {"year": 2016, "month": 10, "date": 8, "hours": 11}}, "y": {"datum": 34.07, "type": "quantitative", "axis": null}}},
    {"data": {"values": [{}]}, "mark": {"type": "rule", "color": "#ff5a5a", "strokeWidth": 0.8}, "encoding": {"x": {"datum": {"year": 2016, "month": 10, "date": 8, "hours": 11}, "type": "temporal", "scale": {"domain": [{"year": 2016, "month": 7, "date": 7, "hours": 2}, {"year": 2016, "month": 12, "date": 13}], "range": [137, 1010], "nice": false}, "axis": null}, "y": {"datum": 34.07, "type": "quantitative", "axis": null}, "y2": {"datum": 29.64}}},
    {"data": {"values": [{}]}, "mark": {"type": "rule", "color": "#ff5a5a", "strokeWidth": 0.8}, "encoding": {"x": {"datum": {"year": 2016, "month": 9, "date": 29, "hours": 17}, "type": "temporal", "scale": {"domain": [{"year": 2016, "month": 7, "date": 7, "hours": 2}, {"year": 2016, "month": 12, "date": 13}], "range": [137, 1010], "nice": false}, "axis": null}, "y": {"datum": 31.5, "type": "quantitative", "axis": null}, "x2": {"datum": {"year": 2016, "month": 10, "date": 5, "hours": 4}}, "y2": {"datum": 29.64}}},
    {"data": {"values": [{}]}, "mark": {"type": "rule", "color": "#ff5a5a", "strokeWidth": 0.8}, "encoding": {"x": {"datum": {"year": 2016, "month": 10, "date": 5, "hours": 4}, "type": "temporal", "scale": {"domain": [{"year": 2016, "month": 7, "date": 7, "hours": 2}, {"year": 2016, "month": 12, "date": 13}], "range": [137, 1010], "nice": false}, "axis": null}, "x2": {"datum": {"year": 2016, "month": 10, "date": 8, "hours": 11}}, "y": {"datum": 29.64, "type": "quantitative", "axis": null}}},
    {"data": {"values": [{"line": "確定変動", "lv": 33.4}, {"line": "2.2mm/6h", "lv": 32.4}, {"line": "（  8.6mm/日", "lv": 31.3}, {"line": " 258.0mm/月）", "lv": 30.3}]}, "mark": {"type": "text", "fontSize": 5.5, "align": "left", "color": "#ff3030"}, "encoding": {"x": {"datum": {"year": 2016, "month": 10, "date": 9, "hours": 3}, "type": "temporal", "scale": {"domain": [{"year": 2016, "month": 7, "date": 7, "hours": 2}, {"year": 2016, "month": 12, "date": 13}], "range": [137, 1010], "nice": false}, "axis": null}, "y": {"field": "lv", "type": "quantitative", "axis": null}, "text": {"field": "line"}}},
    {"data": {"values": [{}]}, "mark": {"type": "rule", "color": "#5a5aff", "strokeWidth": 0.8}, "encoding": {"x": {"datum": {"year": 2016, "month": 9, "date": 30, "hours": 21}, "type": "temporal", "scale": {"domain": [{"year": 2016, "month": 7, "date": 7, "hours": 2}, {"year": 2016, "month": 12, "date": 13}], "range": [137, 1010], "nice": false}, "axis": null}, "x2": {"datum": {"year": 2016, "month": 10, "date": 11, "hours": 7}}, "y": {"datum": 17.9, "type": "quantitative", "axis": null}}},
    {"data": {"values": [{}]}, "mark": {"type": "rule", "color": "#5a5aff", "strokeWidth": 0.8}, "encoding": {"x": {"datum": {"year": 2016, "month": 10, "date": 11, "hours": 7}, "type": "temporal", "scale": {"domain": [{"year": 2016, "month": 7, "date": 7, "hours": 2}, {"year": 2016, "month": 12, "date": 13}], "range": [137, 1010], "nice": false}, "axis": null}, "y": {"datum": 17.9, "type": "quantitative", "axis": null}, "y2": {"datum": 14.0}}},
    {"data": {"values": [{}]}, "mark": {"type": "rule", "color": "#5a5aff", "strokeWidth": 0.8}, "encoding": {"x": {"datum": {"year": 2016, "month": 9, "date": 30, "hours": 3}, "type": "temporal", "scale": {"domain": [{"year": 2016, "month": 7, "date": 7, "hours": 2}, {"year": 2016, "month": 12, "date": 13}], "range": [137, 1010], "nice": false}, "axis": null}, "y": {"datum": 15.2, "type": "quantitative", "axis": null}, "x2": {"datum": {"year": 2016, "month": 10, "date": 5, "hours": 17}}, "y2": {"datum": 14.0}}},
    {"data": {"values": [{}]}, "mark": {"type": "rule", "color": "#5a5aff", "strokeWidth": 0.8}, "encoding": {"x": {"datum": {"year": 2016, "month": 10, "date": 5, "hours": 17}, "type": "temporal", "scale": {"domain": [{"year": 2016, "month": 7, "date": 7, "hours": 2}, {"year": 2016, "month": 12, "date": 13}], "range": [137, 1010], "nice": false}, "axis": null}, "x2": {"datum": {"year": 2016, "month": 10, "date": 11, "hours": 7}}, "y": {"datum": 14.0, "type": "quantitative", "axis": null}}},
    {"data": {"values": [{"line": "確定変動", "lv": 17.4}, {"line": "3.6mm/6h", "lv": 16.4}, {"line": "（14.6mm/日", "lv": 15.4}, {"line": " 440.0mm/月）", "lv": 14.4}]}, "mark": {"type": "text", "fontSize": 5.5, "align": "left", "color": "#3030ff"}, "encoding": {"x": {"datum": {"year": 2016, "month": 10, "date": 11, "hours": 14}, "type": "temporal", "scale": {"domain": [{"year": 2016, "month": 7, "date": 7, "hours": 2}, {"year": 2016, "month": 12, "date": 13}], "range": [137, 1010], "nice": false}, "axis": null}, "y": {"field": "lv", "type": "quantitative", "axis": null}, "text": {"field": "line"}}},
    {"data": {"values": [{"sym": "↑", "lv": 38.2, "sz": "big"}, {"sym": "引", "lv": 36.6, "sz": "small"}, {"sym": "張", "lv": 35.7, "sz": "small"}, {"sym": "圧", "lv": -0.7, "sz": "small"}, {"sym": "縮", "lv": -1.6, "sz": "small"}, {"sym": "↓", "lv": -3.6, "sz": "big"}]}, "mark": {"type": "text", "color": "#444444"}, "encoding": {"x": {"datum": {"year": 2016, "month": 7, "date": 9, "hours": 6}, "type": "temporal", "scale": {"domain": [{"year": 2016, "month": 7, "date": 7, "hours": 2}, {"year": 2016, "month": 12, "date": 13}], "range": [137, 1010], "nice": false}, "axis": null}, "y": {"field": "lv", "type": "quantitative", "axis": null}, "text": {"field": "sym"}, "size": {"field": "sz", "type": "nominal", "scale": {"domain": ["big", "small"], "range": [11, 5]}, "legend": null}}}
   ]},

  {"width": 1010, "height": 67,
   "resolve": {"scale": {"x": "independent"}},
   "layer": [
    {"data": {"name": "rain"}, "mark": {"type": "bar", "fill": "#a4a4ff", "stroke": "#1010ee", "strokeWidth": 0.8},
     "encoding": {
      "x": {"field": "date", "timeUnit": "yearmonthdate", "type": "temporal", "scale": {"domain": [{"year": 2016, "month": 7, "date": 7, "hours": 2}, {"year": 2016, "month": 12, "date": 13}], "range": [137, 1010], "nice": false}, "axis": null},
      "y": {"field": "mm", "type": "quantitative", "scale": {"domain": [0, 150], "nice": false, "zero": false}, "axis": null}}},
    {"data": {"name": "rain"}, "mark": {"type": "text", "fontSize": 5, "color": "#5a5aff", "baseline": "bottom", "dy": -1},
     "encoding": {
      "x": {"field": "date", "timeUnit": "yearmonthdate", "type": "temporal", "bandPosition": 0.5, "scale": {"domain": [{"year": 2016, "month": 7, "date": 7, "hours": 2}, {"year": 2016, "month": 12, "date": 13}], "range": [137, 1010], "nice": false}, "axis": null},
      "y": {"field": "mm", "type": "quantitative", "axis": null},
      "text": {"field": "mm", "type": "quantitative", "format": ".1f"}}},
    {"data": {"name": "rainTicks"}, "mark": {"type": "rule", "color": "#555555", "strokeWidth": 0.8}, "encoding": {"x": {"datum": 0.1317, "type": "quantitative", "scale": {"domain": [0, 1], "nice": false, "zero": false}, "axis": null}, "x2": {"datum": 0.1356}, "y": {"field": "tick", "type": "quantitative", "axis": null}}},
    {"data": {"name": "rainTicks"}, "transform": [{"filter": "datum.tick % 50 === 0"}], "mark": {"type": "rule", "color": "#555555", "strokeWidth": 0.8}, "encoding": {"x": {"datum": 0.1287, "type": "quantitative", "scale": {"domain": [0, 1], "nice": false, "zero": false}, "axis": null}, "x2": {"datum": 0.1356}, "y": {"field": "tick", "type": "quantitative", "axis": null}}},
    {"data": {"name": "rainTicks"}, "transform": [{"filter": "datum.tick % 50 === 0"}], "mark": {"type": "text", "align": "right", "fontSize": 6, "color": "#333333", "font": "Liberation Sans"}, "encoding": {"x": {"datum": 0.1272, "type": "quantitative", "scale": {"domain": [0, 1], "nice": false, "zero": false}, "axis": null}, "y": {"field": "tick", "type": "quantitative", "axis": null}, "text": {"field": "tick", "type": "quantitative"}}},
    {"data": {"values": [{}]}, "mark": {"type": "rule", "color": "#858585"}, "encoding": {"x": {"datum": 0.1356, "type": "quantitative", "scale": {"domain": [0, 1], "nice": false, "zero": false}, "axis": null}}},
    {"data": {"values": [{}]}, "mark": {"type": "text", "text": "降　水　量", "fontSize": 15, "color": "#111111"}, "encoding": {"x": {"datum": 0.0475, "type": "quantitative", "scale": {"domain": [0, 1], "nice": false, "zero": false}, "axis": null}, "y": {"datum": 82, "type": "quantitative", "axis": null}}},
    {"data": {"values": [{}]}, "mark": {"type": "text", "text": "（mm）", "fontSize": 7, "color": "#333333"}, "encoding": {"x": {"datum": 0.0773, "type": "quantitative", "scale": {"domain": [0, 1], "nice": false, "zero": false}, "axis": null}, "y": {"datum": 55, "type": "quantitative", "axis": null}}}
   ]},

  {"width": 1010, "height": 27,
   "resolve": {"scale": {"x": "independent"}},
   "layer": [
    {"data": {"name": "monthStarts"}, "mark": {"type": "rule", "color": "#858585"},
     "encoding": {
      "x": {"field": "start", "type": "temporal", "scale": {"domain": [{"year": 2016, "month": 7, "date": 7, "hours": 2}, {"year": 2016, "month": 12, "date": 13}], "range": [137, 1010], "nice": false},
            "axis": {"title": null, "orient": "bottom", "offset": -27, "tickCount": {"interval": "day", "step": 1}, "labelExpr": "(date(datum.value) === 10 || date(datum.value) === 20 || date(datum.value) === 30) ? '' + date(datum.value) : ''", "labelOverlap": false, "labelFlush": false, "labelBound": false, "tickSize": 2, "labelPadding": 0, "labelFontSize": 7, "labelColor": "#222222", "domain": false, "grid": false}},
      "y": {"datum": 1, "type": "quantitative", "scale": {"domain": [0, 3], "nice": false, "zero": false}, "axis": null}, "y2": {"datum": 2}}},
    {"data": {"values": [{"row": 1}, {"row": 2}]}, "mark": {"type": "rule", "color": "#858585"}, "encoding": {"y": {"field": "row", "type": "quantitative", "axis": null}}},
    {"data": {"values": [{}]}, "mark": {"type": "rule", "color": "#858585"}, "encoding": {"x": {"datum": 0.1356, "type": "quantitative", "scale": {"domain": [0, 1], "nice": false, "zero": false}, "axis": null}}},
    {"data": {"values": [{"name": "日", "row": 2.5}, {"name": "月", "row": 1.5}, {"name": "年", "row": 0.4}]}, "mark": {"type": "text", "fontSize": 8.5, "fontWeight": "bold", "color": "#111111"}, "encoding": {"x": {"datum": 0.0664, "type": "quantitative", "scale": {"domain": [0, 1], "nice": false, "zero": false}, "axis": null}, "y": {"field": "row", "type": "quantitative", "axis": null}, "text": {"field": "name"}}},
    {"data": {"values": [{"m": "7", "mid": "2016-07-19T12:00"}, {"m": "8", "mid": "2016-08-16T12:00"}, {"m": "9", "mid": "2016-09-16T00:00"}, {"m": "10", "mid": "2016-10-16T12:00"}, {"m": "11", "mid": "2016-11-16T00:00"}]}, "mark": {"type": "text", "fontSize": 6, "color": "#222222", "font": "Liberation Sans"}, "encoding": {"x": {"field": "mid", "type": "temporal", "scale": {"domain": [{"year": 2016, "month": 7, "date": 7, "hours": 2}, {"year": 2016, "month": 12, "date": 13}], "range": [137, 1010], "nice": false}, "axis": null}, "y": {"datum": 1.5, "type": "quantitative", "axis": null}, "text": {"field": "m"}}},
    {"data": {"values": [{}]}, "mark": {"type": "text", "text": "2016", "fontSize": 6, "color": "#222222", "font": "Liberation Sans"}, "encoding": {"x": {"datum": {"year": 2016, "month": 10, "date": 3}, "type": "temporal", "scale": {"domain": [{"year": 2016, "month": 7, "date": 7, "hours": 2}, {"year": 2016, "month": 12, "date": 13}], "range": [137, 1010], "nice": false}, "axis": null}, "y": {"datum": 0.45, "type": "quantitative", "axis": null}}}
   ]}
]
}
